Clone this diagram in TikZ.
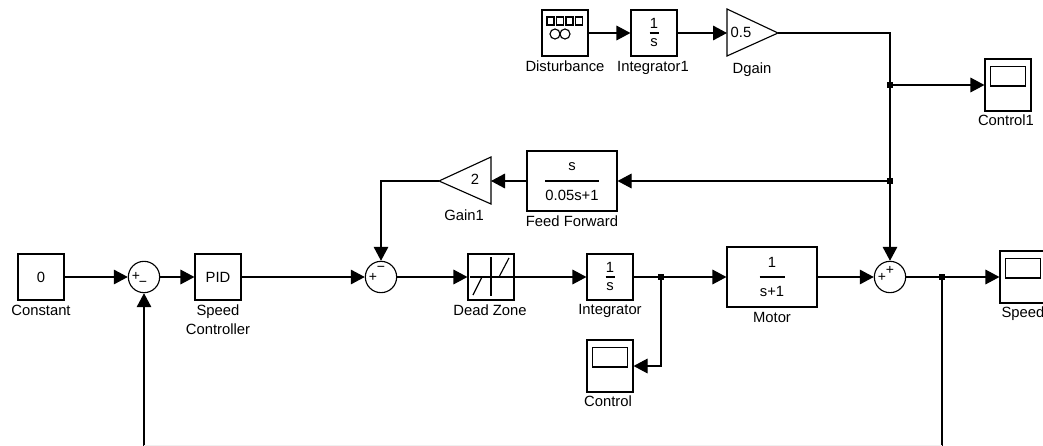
\documentclass[tikz,border=0pt]{standalone}
\usepackage{fontspec}
\setmainfont{Liberation Sans}
\usetikzlibrary{arrows.meta,positioning}
\tikzset{
    block/.style={draw, line width=0.85pt, minimum width=34.5pt, minimum height=34.5pt, inner sep=0pt, font=\fontsize{11.1pt}{12pt}\selectfont},
    wideblock/.style={block, minimum width=67.5pt, minimum height=45pt},
    scopebox/.style={block, minimum height=39pt},
    sumnode/.style={draw, line width=0.85pt, circle, minimum size=23.5pt, inner sep=0pt},
    caption/.style={font=\fontsize{11.1pt}{14.2pt}\selectfont, inner sep=0pt, align=center},
    value/.style={font=\fontsize{11.1pt}{12pt}\selectfont, inner sep=0pt},
    sign/.style={font=\fontsize{10.5pt}{10.5pt}\selectfont, inner sep=0pt},
    junction/.style={fill, minimum size=3.8pt, inner sep=0pt},
    sig/.style={line width=0.85pt, -{Triangle[length=10.5pt, width=11pt]}},
    wire/.style={line width=0.85pt}
}
\begin{document}
\begin{tikzpicture}[x=0.75pt, y=-0.75pt]
    \useasboundingbox (0,0) rectangle (1043,446);
    \clip (0,0) rectangle (1043,446);

    % Main path
    \node (Constant) [block] at (41,277) {0};
    \node (Sum1) [sumnode] at (144,277) {};
    \node (PID) [block] at (218,277) {PID};
    \node (Sum2) [sumnode] at (381,277) {};
    \node (DeadZone) [block] at (491,277) {};
    \node (Integ) [block] at (610,277) {};
    \node (Motor) [wideblock] at (772,277) {};
    \node (Sum3) [sumnode] at (890,277) {};
    \node (Speed) [scopebox] at (1023,277) {};
    \node (Control) [scopebox] at (610,366) {};

    % Top path
    \node (Dist) [block] at (565,33) {};
    \node (Integ1) [block] at (654,33) {};
    \node (Control1) [scopebox] at (1008,85) {};
    \coordinate (DgainIn) at (727,33);
    \coordinate (DgainOut) at (778,33);

    % Feed forward path
    \node (FF) [wideblock] at (572,181) {};
    \coordinate (GainIn) at (491,181);
    \coordinate (GainOut) at (439,181);

    % Triangles
    \draw[wire, line join=miter] (727,9) -- (DgainOut) -- (727,56) -- cycle;
    \draw[wire, line join=miter] (491,157) -- (GainOut) -- (491,204) -- cycle;
    \node (ValD) [value] at (741,32) {0.5};
    \node (ValG) [value] at (475,179) {2};

    % Fractions
    \foreach \frm/\num/\den/\halfw/\gap in {Integ/1/s/4.5/10, Integ1/1/s/4.5/10, Motor/1/s+1/12.5/14.5, FF/s/0.05s+1/27/14.5} {
        \draw[wire] (\frm.center) ++(-\halfw,0) -- ++(2*\halfw,0);
        \node [value, yshift=\gap*0.75pt] at (\frm.center) {\num};
        \node [value, yshift=-\gap*0.75pt] at (\frm.center) {\den};
    }

    % Dead zone
    \draw[wire] (491,257) -- (491,296);
    \draw[wire] (470,277) -- (514,277);
    \draw[wire] (482,277) -- (473,295);
    \draw[wire] (509,258) -- (499,277);

    % Scope screens
    \foreach \frm in {Control, Speed, Control1} {
        \draw[wire] ([xshift=-13pt,yshift=14pt]\frm.center) rectangle ([xshift=13pt,yshift=-0.75pt]\frm.center);
    }

    % Disturbance icon
    \foreach \xx in {547,556.5,566,575.5} {
        \draw[wire] (\xx,17) rectangle ++(7,8);
    }
    \draw[wire] (555,34) circle (5);
    \draw[wire] (565,34) circle (5);

    % Signs
    \node (S1a) [sign] at (136,276) {+};
    \node (S1b) [sign] at (143,284) {\textminus};
    \node (S2a) [sign] at (373,277) {+};
    \node (S2b) [sign] at (381,269) {\textminus};
    \node (S3a) [sign] at (882,277) {+};
    \node (S3b) [sign] at (890,270) {+};

    % Labels
    \node (Lconst) [caption, anchor=north] at (41,304.5) {Constant};
    \node (Lpid) [caption, anchor=north] at (218,304.5) {Speed\\Controller};
    \node (Ldead) [caption, anchor=north] at (490,304.5) {Dead Zone};
    \node (Linteg) [caption, anchor=north] at (610,304.5) {Integrator};
    \node (Lmotor) [caption, anchor=north] at (772,312) {Motor};
    \node (Lctrl) [caption, anchor=north] at (608,395.5) {Control};
    \node (Lspeed) [caption, anchor=north] at (1023,306.5) {Speed};
    \node (Lctrl1) [caption, anchor=north] at (1006,115) {Control1};
    \node (Ldist) [caption, anchor=north] at (565,61) {Disturbance};
    \node (Linteg1) [caption, anchor=north] at (653,61) {Integrator1};
    \node (Ldgain) [caption, anchor=north] at (752,63) {Dgain};
    \node (Lff) [caption, anchor=north] at (572,216) {Feed Forward};
    \node (Lgain) [caption, anchor=north] at (464,210) {Gain1};

    % Junctions
    \node (J1) [junction] at (661,277) {};
    \node (J2) [junction] at (942,277) {};
    \node (J3) [junction] at (890,85) {};
    \node (J4) [junction] at (890,181) {};
    \coordinate (FbR) at (942,445.5);
    \coordinate (FbL) at (144,445.5);

    % Arrows
    \draw[sig] (Constant) -- (Sum1);
    \draw[sig] (Sum1) -- (PID);
    \draw[sig] (PID) -- (Sum2);
    \draw[sig] (Sum2) -- (DeadZone);
    \draw[sig] (DeadZone) -- (Integ);
    \draw[sig] (Integ) -- (Motor);
    \draw[sig] (Motor) -- (Sum3);
    \draw[sig] (Sum3) -- (Speed);
    \draw[sig] (J1) |- (Control);
    \draw[sig] (Dist) -- (Integ1);
    \draw[sig] (Integ1) -- (DgainIn);
    \draw[sig] (DgainOut) -| (Sum3);
    \draw[sig] (J3) -- (Control1);
    \draw[sig] (J4) -- (FF);
    \draw[sig] (FF) -- (GainIn);
    \draw[sig] (GainOut) -| (Sum2);
    \draw[wire] (J2) -- (FbR);
    \draw[sig] (FbL) -- (Sum1);
    \draw[gray!12, line width=0.75pt] (FbL) -- (FbR);

\end{tikzpicture}
\end{document}
